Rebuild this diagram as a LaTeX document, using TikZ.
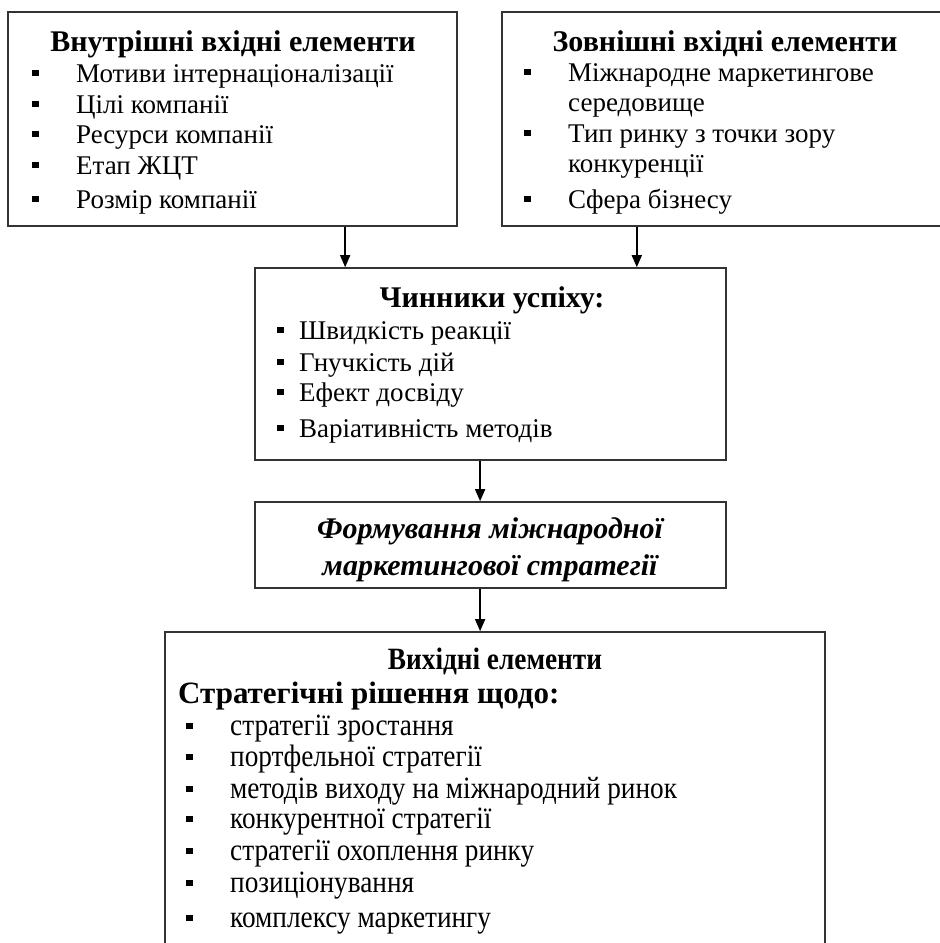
\documentclass[tikz,border=0pt]{standalone}
\usepackage{fontspec}
\setmainfont{Liberation Serif}
\newfontfamily\narrowfont[FakeStretch=0.88]{Liberation Serif}
\usetikzlibrary{arrows.meta, calc}

\begin{document}
\begin{tikzpicture}[
  x=1pt, y=-1pt, font=\fontsize{27}{31}\selectfont,
  > = {Triangle[length=12pt,width=10pt]},
  box/.style = {draw=black!80, line width=1.6pt, inner sep=0pt},
  sq/.style = {fill, inner sep=0pt, minimum size=6.5pt},
  txt/.style = {anchor=west, inner sep=0pt, text height=24pt, text depth=5pt},
  item/.style = {txt, label={[sq, label distance=37pt]left:}},
  tightitem/.style = {txt, label={[sq, label distance=15pt]left:}},
  head/.style = {inner sep=0pt, text height=24pt, text depth=5pt, font=\fontsize{30}{31}\selectfont\bfseries},
  outfont/.style = {font=\fontsize{31}{31}\selectfont\narrowfont},
  outhead/.style = {font=\fontsize{31}{31}\selectfont\narrowfont\bfseries},
  link/.style = {->, line width=1.5pt}
  ]
  \useasboundingbox (0,0) rectangle (940,943);
  \clip (0,0) rectangle (940,943);
  \node[box, minimum width=449pt, minimum height=214pt] (inner) at (232.5,119) {};
  \node[box, minimum width=443pt, minimum height=214pt] (outer) at (723.5,119) {};
  \node[box, minimum width=471pt, minimum height=192pt] (success) at (490.5,364) {};
  \node[box, minimum width=471pt, minimum height=86pt] (strategy) at (490.5,545) {};
  \node[box, minimum width=660pt, minimum height=340pt] (output) at (495,802) {};

  \node[head] (inner-t) at (233,42) {Внутрішні вхідні елементи};
  \node[item] (in1) at (76,73) {Мотиви інтернаціоналізації};
  \node[item] (in2) at (76,104) {Цілі компанії};
  \node[item] (in3) at (76,134) {Ресурси компанії};
  \node[item] (in4) at (76,165) {Етап ЖЦТ};
  \node[item] (in5) at (76,199) {Розмір компанії};

  \node[head] (outer-t) at (725,42) {Зовнішні вхідні елементи};
  \node[item] (out1) at (568,72) {Міжнародне маркетингове};
  \node[txt] (out1b) at (568,102) {середовище};
  \node[item] (out2) at (568,133) {Тип ринку з точки зору};
  \node[txt] (out2b) at (568,163) {конкуренції};
  \node[item] (out3) at (568,199) {Сфера бізнесу};

  \node[head] (success-t) at (492,298) {Чинники успіху:};
  \node[tightitem] (suc1) at (299,330) {Швидкість реакції};
  \node[tightitem] (suc2) at (299,362) {Гнучкість дій};
  \node[tightitem] (suc3) at (299,392) {Ефект досвіду};
  \node[tightitem] (suc4) at (299,428) {Варіативність методів};

  \node[inner sep=0pt, align=center, font=\fontsize{30}{37}\selectfont\bfseries\itshape] (strategy-t) at (490,550) {Формування міжнародної\\маркетингової стратегії};

  \node[head, outhead] (output-t) at (495,660) {Вихідні елементи};
  \node[txt, font=\fontsize{31}{31}\selectfont\bfseries] (output-s) at (178,694) {Стратегічні рішення щодо:};
  \node[item, outfont] (res1) at (230,726) {стратегії зростання};
  \node[item, outfont] (res2) at (230,757) {портфельної стратегії};
  \node[item, outfont] (res3) at (230,789) {методів виходу на міжнародний ринок};
  \node[item, outfont] (res4) at (230,819) {конкурентної стратегії};
  \node[item, outfont] (res5) at (230,851) {стратегії охоплення ринку};
  \node[item, outfont] (res6) at (230,883) {позиціонування};
  \node[item, outfont] (res7) at (230,918) {комплексу маркетингу};

  \coordinate (in-out) at ($(inner.south west)!.75!(inner.south east)$);
  \coordinate (out-out) at ($(outer.south west)!.305!(outer.south east)$);
  \coordinate (suc-out) at ($(success.south west)!.478!(success.south east)$);
  \coordinate (str-out) at ($(strategy.south west)!.478!(strategy.south east)$);
  \draw[link] (in-out) -- (in-out |- success.north);
  \draw[link] (out-out) -- (out-out |- success.north);
  \draw[link] (suc-out) -- (suc-out |- strategy.north);
  \draw[link] (str-out) -- (str-out |- output.north);
\end{tikzpicture}
\end{document}
